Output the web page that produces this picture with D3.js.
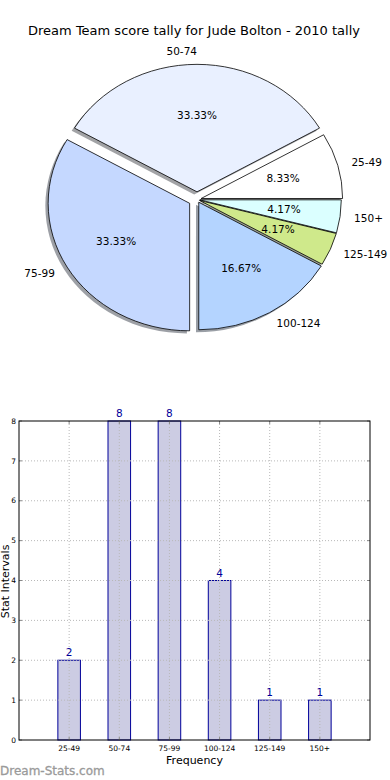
<!DOCTYPE html>
<html><head><meta charset="utf-8">
<script src="https://cdn.jsdelivr.net/npm/d3@7"></script>
<style>
html,body{margin:0;padding:0;background:#fff;}
svg{display:block;font-family:"DejaVu Sans",sans-serif;}
</style></head>
<body><svg id="c" width="390" height="780"></svg>
<script>
const title = "Dream Team score tally for Jude Bolton - 2010 tally";
const categories = ["25-49","50-74","75-99","100-124","125-149","150+"];
const counts = [2,8,8,4,1,1];
const pieColors = ["#ffffff","#e9f0ff","#c5d8ff","#b4d4ff","#cfe98b","#dbffff"];
const explode = [0.03,0.06,0.06,0.025,0.02,0.02];
const yTicks = [0,1,2,3,4,5,6,7,8];
const xLabel = "Frequency";
const yLabel = "Stat Intervals";
const watermark = "Dream-Stats.com";

const svg = d3.select("#c");

// Title
svg.append("text").attr("x",194).attr("y",35).attr("text-anchor","middle")
  .attr("font-size",13).attr("fill","#000").text(title);

// ---- Pie (elliptical, matplotlib style) ----
const cx = 197, cy = 199.5, rx = 141.5, ry = 127.5;
const total = d3.sum(counts);
const pie = d3.pie().sort(null).startAngle(Math.PI/2).endAngle(Math.PI/2 - 2*Math.PI);
const arcs = pie(counts);
const unitArc = d3.arc().innerRadius(0).outerRadius(1);
const gPie = svg.append("g");
function off(d,i){
  const a=(d.startAngle+d.endAngle)/2;
  return [explode[i]*rx*Math.sin(a), -explode[i]*ry*Math.cos(a), a];
}
// shadows
arcs.forEach((d,i)=>{
  const [dx,dy]=off(d,i);
  const c=d3.rgb(pieColors[i]);
  gPie.append("path").attr("d",unitArc(d))
    .attr("transform",`translate(${cx+dx-2.8},${cy+dy+2.6}) scale(${rx},${ry})`)
    .attr("fill",d3.rgb(c.r*0.3,c.g*0.3,c.b*0.3)).attr("fill-opacity",0.5).attr("stroke","none");
});
arcs.forEach((d,i)=>{
  const [dx,dy]=off(d,i);
  gPie.append("path").attr("d",unitArc(d))
    .attr("transform",`translate(${cx+dx},${cy+dy}) scale(${rx},${ry})`)
    .attr("fill",pieColors[i]).attr("stroke","#000").attr("stroke-width",0.8)
    .attr("vector-effect","non-scaling-stroke");
});
arcs.forEach((d,i)=>{
  const [dx,dy,a]=off(d,i);
  const s=Math.sin(a), c=-Math.cos(a);
  gPie.append("text")
    .attr("x",cx+dx+1.1*rx*s).attr("y",cy+dy+1.1*ry*c).attr("dy","0.35em")
    .attr("text-anchor", s>0.01?"start":"end").attr("font-size",10.5).attr("fill","#000")
    .text(categories[i]);
  gPie.append("text")
    .attr("x",cx+dx+0.6*rx*s).attr("y",cy+dy+0.6*ry*c).attr("dy","0.35em")
    .attr("text-anchor","middle").attr("font-size",10.5).attr("fill","#000")
    .text((100*d.value/total).toFixed(2)+"%");
});

// ---- Bar chart ----
const L=19, R=370, T=421, B=740;
const x = d3.scaleLinear().domain([-1,categories.length]).range([L,R]);
const y = d3.scaleLinear().domain([0,8]).range([B,T]);
const gB = svg.append("g");
const bw = 0.45;
gB.selectAll("rect.bar").data(counts).enter().append("rect")
  .attr("x",(d,i)=>x(i-bw/2)).attr("width",(d,i)=>x(i+bw/2)-x(i-bw/2))
  .attr("y",d=>y(d)).attr("height",d=>y(0)-y(d))
  .attr("fill","#ccccE3").attr("stroke","#000099").attr("stroke-width",1);
// grid
const gridCol="#b8b8b8";
gB.selectAll("line.gy").data(yTicks.slice(1,-1)).enter().append("line")
  .attr("x1",L).attr("x2",R).attr("y1",d=>y(d)).attr("y2",d=>y(d))
  .attr("stroke",gridCol).attr("stroke-width",1).attr("stroke-dasharray","1,2");
gB.selectAll("line.gx").data(categories).enter().append("line")
  .attr("x1",(d,i)=>x(i)).attr("x2",(d,i)=>x(i)).attr("y1",T).attr("y2",B)
  .attr("stroke",gridCol).attr("stroke-width",1).attr("stroke-dasharray","1,2");
// ticks
gB.selectAll("line.tl").data(yTicks).enter().append("line")
  .attr("x1",L).attr("x2",L+3).attr("y1",d=>y(d)).attr("y2",d=>y(d)).attr("stroke","#888");
gB.selectAll("line.tr").data(yTicks).enter().append("line")
  .attr("x1",R-3).attr("x2",R).attr("y1",d=>y(d)).attr("y2",d=>y(d)).attr("stroke","#888");
gB.selectAll("line.tb").data(categories).enter().append("line")
  .attr("x1",(d,i)=>x(i)).attr("x2",(d,i)=>x(i)).attr("y1",B-3).attr("y2",B).attr("stroke","#888");
gB.selectAll("line.tt").data(categories).enter().append("line")
  .attr("x1",(d,i)=>x(i)).attr("x2",(d,i)=>x(i)).attr("y1",T).attr("y2",T+3).attr("stroke","#888");
// frame
gB.append("rect").attr("x",L).attr("y",T).attr("width",R-L).attr("height",B-T)
  .attr("fill","none").attr("stroke","#000").attr("stroke-width",1);
// tick labels
gB.selectAll("text.yt").data(yTicks).enter().append("text")
  .attr("x",L-3).attr("y",d=>y(d)).attr("dy","0.35em").attr("text-anchor","end")
  .attr("font-size",7.5).attr("fill","#000").text(d=>d);
gB.selectAll("text.xt").data(categories).enter().append("text")
  .attr("x",(d,i)=>x(i)).attr("y",B+11).attr("text-anchor","middle")
  .attr("font-size",7.5).attr("fill","#000").text(d=>d);
// value labels
gB.selectAll("text.v").data(counts).enter().append("text")
  .attr("x",(d,i)=>x(i)).attr("y",d=>y(d)-4).attr("text-anchor","middle")
  .attr("font-size",10.5).attr("fill","#000099").text(d=>d);
// axis labels
gB.append("text").attr("x",(L+R)/2).attr("y",764).attr("text-anchor","middle")
  .attr("font-size",11).attr("fill","#000").text(xLabel);
gB.append("text").attr("transform",`translate(9,${(T+B)/2 + 1}) rotate(-90)`)
  .attr("text-anchor","middle").attr("font-size",11).attr("fill","#000").text(yLabel);
// watermark
svg.append("text").attr("x",0).attr("y",775).attr("font-size",12)
  .attr("fill","#9a9a9a").attr("stroke","#9a9a9a").attr("stroke-width",0.3).text(watermark);
</script></body></html>
